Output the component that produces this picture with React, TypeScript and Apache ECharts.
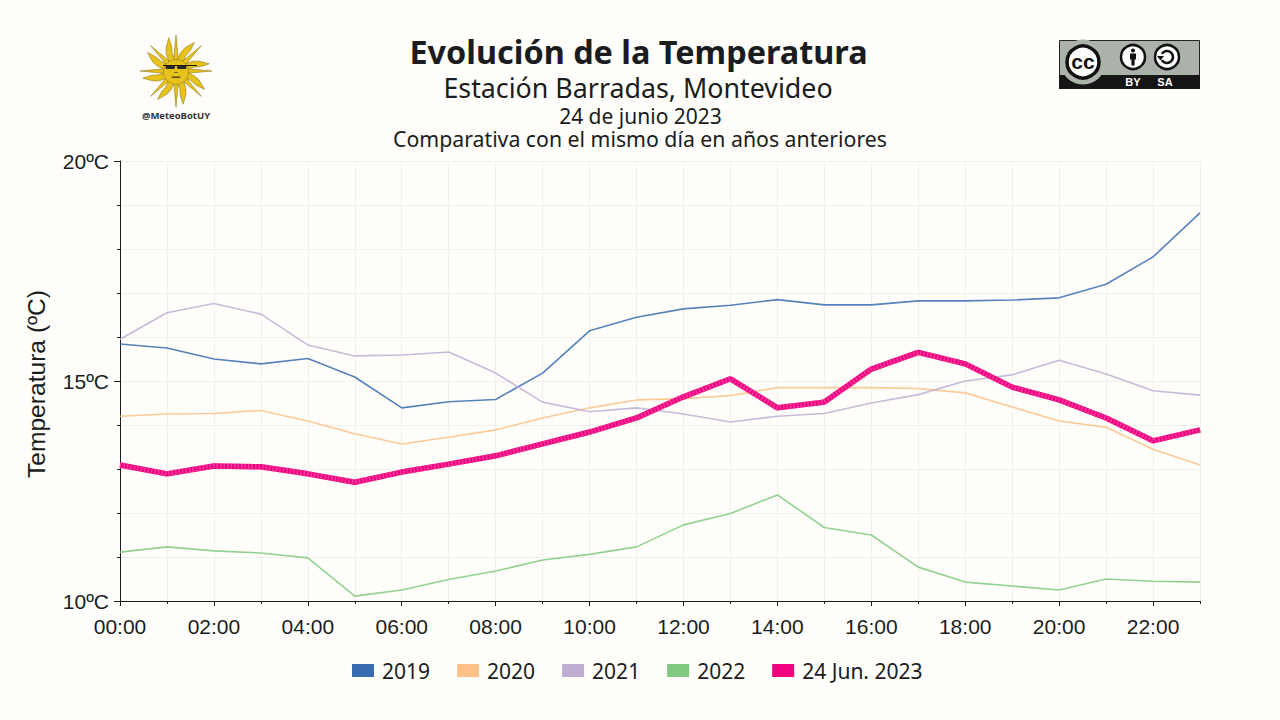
import { useEffect, useRef } from 'react'
import * as echarts from 'echarts'

const hours = ['00:00','01:00','02:00','03:00','04:00','05:00','06:00','07:00','08:00','09:00','10:00','11:00','12:00','13:00','14:00','15:00','16:00','17:00','18:00','19:00','20:00','21:00','22:00','23:00']
const y2019 = [15.84,15.75,15.5,15.39,15.51,15.09,14.39,14.53,14.58,15.18,16.14,16.45,16.64,16.72,16.85,16.73,16.73,16.82,16.82,16.84,16.89,17.2,17.82,18.82]
const y2020 = [14.2,14.25,14.26,14.33,14.09,13.8,13.57,13.72,13.89,14.16,14.39,14.57,14.6,14.67,14.85,14.85,14.85,14.83,14.73,14.41,14.09,13.95,13.45,13.09]
const y2021 = [15.95,16.55,16.76,16.52,15.82,15.57,15.59,15.66,15.18,14.52,14.3,14.39,14.25,14.07,14.2,14.26,14.5,14.69,15.0,15.14,15.47,15.16,14.78,14.68]
const y2022 = [11.11,11.23,11.14,11.09,10.98,10.11,10.25,10.49,10.68,10.93,11.06,11.23,11.73,11.99,12.41,11.67,11.5,10.77,10.43,10.34,10.25,10.5,10.45,10.43]
const y2023 = [13.09,12.89,13.07,13.05,12.89,12.7,12.93,13.11,13.3,13.57,13.84,14.16,14.64,15.05,14.39,14.52,15.27,15.65,15.39,14.86,14.57,14.16,13.64,13.89]
const legendNames = ['2019', '2020', '2021', '2022', '24 Jun. 2023']

const INK = '#1a1c20'
const SANS = '"Noto Sans", sans-serif'
const AXIS_FONT = '"Liberation Sans", Arial, sans-serif'

// sun emblem: 16 rays around a round face
function sunRays(cx: number, cy: number) {
  const rays: any[] = []
  const pt = (rad: number, ang: number) => [cx + rad * Math.cos(ang), cy + rad * Math.sin(ang)]
  for (let i = 0; i < 16; i++) {
    const a = (i * Math.PI) / 8 - Math.PI / 2
    const straight = i % 2 === 0
    const w = 0.22
    const bend = 0.2
    rays.push({
      type: 'polygon',
      shape: {
        points: straight
          ? [pt(11, a - w), pt(36, a), pt(11, a + w)]
          : [pt(11, a - w - 0.06), pt(19, a - bend * 0.7), pt(25, a - bend * 0.1), pt(34, a + bend * 0.9), pt(25, a + bend * 1.1), pt(18, a + bend * 0.9), pt(11, a + w + 0.06)],
      },
      style: { fill: '#e8c21c', stroke: '#7d6a1c', lineWidth: 0.5 },
    })
  }
  return rays
}

const sunGroup = [
  ...sunRays(176, 71),
  { type: 'circle', shape: { cx: 176, cy: 72, r: 12.5 }, style: { fill: '#e8c21c', stroke: '#8a7420', lineWidth: 0.5 } },
  { type: 'rect', shape: { x: 163, y: 65, width: 34, height: 1.1 }, style: { fill: '#111' } },
  { type: 'rect', shape: { x: 165.5, y: 65.5, width: 9.5, height: 3.6, r: 1.6 }, style: { fill: '#2a2a2a' } },
  { type: 'rect', shape: { x: 177, y: 65.5, width: 9.5, height: 3.6, r: 1.6 }, style: { fill: '#2a2a2a' } },
  { type: 'rect', shape: { x: 174, y: 72, width: 4, height: 1 }, style: { fill: '#7a6212' } },
  { type: 'rect', shape: { x: 171.5, y: 76.5, width: 9, height: 1.6, r: 0.8 }, style: { fill: '#5d4a10' } },
  { type: 'text', x: 176, y: 115, style: { text: '@MeteoBotUY', fill: '#333', font: 'bold 9.5px "Open Sans", sans-serif', textAlign: 'center', textVerticalAlign: 'middle' } },
]

// CC BY-SA badge
const badge = [
  { type: 'rect', shape: { x: 1059.5, y: 40.5, width: 140, height: 48 }, style: { fill: '#aab2a9', stroke: '#222', lineWidth: 1 } },
  { type: 'rect', shape: { x: 1059, y: 75, width: 141, height: 14 }, style: { fill: '#141514' } },
  { type: 'circle', shape: { cx: 1083, cy: 62, r: 22.5 }, style: { fill: '#aab2a9' } },
  { type: 'circle', shape: { cx: 1083, cy: 62, r: 16 }, style: { fill: '#fff', stroke: '#111', lineWidth: 3.5 } },
  { type: 'text', x: 1083, y: 61, style: { text: 'cc', fill: '#111', font: 'bold 21px "Liberation Sans", sans-serif', textAlign: 'center', textVerticalAlign: 'middle' } },
  { type: 'circle', shape: { cx: 1133, cy: 57, r: 12 }, style: { fill: '#fff', stroke: '#111', lineWidth: 2.5 } },
  { type: 'circle', shape: { cx: 1133, cy: 50.5, r: 2 }, style: { fill: '#111' } },
  { type: 'rect', shape: { x: 1130, y: 53.5, width: 6, height: 6 }, style: { fill: '#111' } },
  { type: 'rect', shape: { x: 1131.4, y: 59, width: 3.2, height: 6.5 }, style: { fill: '#111' } },
  { type: 'circle', shape: { cx: 1167, cy: 57, r: 12 }, style: { fill: '#fff', stroke: '#111', lineWidth: 2.5 } },
  { type: 'arc', shape: { cx: 1167, cy: 57, r: 6, startAngle: -2.6, endAngle: 2.6, clockwise: true }, style: { stroke: '#111', lineWidth: 2.6, fill: 'none' } },
  { type: 'polygon', shape: { points: [[1157, 56], [1164, 56], [1160.5, 60.5]] }, style: { fill: '#111' } },
  { type: 'text', x: 1133, y: 82, style: { text: 'BY', fill: '#fff', font: 'bold 11px "Liberation Sans", sans-serif', textAlign: 'center', textVerticalAlign: 'middle' } },
  { type: 'text', x: 1165, y: 82, style: { text: 'SA', fill: '#fff', font: 'bold 11px "Liberation Sans", sans-serif', textAlign: 'center', textVerticalAlign: 'middle' } },
]

function makeOption() {
  const thin = (name: string, data: number[], color: string) => ({
    name, type: 'line', data, symbol: 'none', color, lineStyle: { color, width: 1.6, opacity: 0.85 }, z: 2,
  })
  return {
    animation: false,
    backgroundColor: '#fffefa',
    title: [
      { text: 'Evolución de la Temperatura', left: 633.5, top: 29, textAlign: 'center', textStyle: { fontFamily: SANS, fontSize: 32.4, lineHeight: 34, fontWeight: 'bold', color: INK } },
      { text: 'Estación Barradas, Montevideo', left: 633, top: 69.5, textAlign: 'center', textStyle: { fontFamily: SANS, fontSize: 26.8, lineHeight: 25, fontWeight: 'normal', color: INK } },
      { text: '24 de junio 2023', left: 635.5, top: 100, textAlign: 'center', textStyle: { fontFamily: SANS, fontSize: 21, lineHeight: 22, fontWeight: 'normal', color: INK } },
      { text: 'Comparativa con el mismo día en años anteriores', left: 635, top: 122, textAlign: 'center', textStyle: { fontFamily: SANS, fontSize: 21.25, lineHeight: 22, fontWeight: 'normal', color: INK } },
    ],
    grid: { left: 120, right: 80, top: 161, bottom: 119 },
    legend: {
      data: legendNames, left: 347, top: 655, itemWidth: 22, itemGap: 27, itemHeight: 13, icon: 'rect',
      textStyle: { fontFamily: SANS, fontSize: 21, color: INK, padding: [0, 0, 0, 3] },
    },
    xAxis: [
      {
        type: 'category', data: hours, boundaryGap: false,
        axisLine: { lineStyle: { color: INK, width: 1 } },
        axisTick: { alignWithLabel: true, interval: 0, length: 3, lineStyle: { color: INK } },
        axisLabel: { interval: 1, color: INK, fontFamily: AXIS_FONT, fontSize: 21, margin: 15 },
        splitLine: { show: true, interval: 0, lineStyle: { color: '#f1f0ea', width: 1 } },
      },
      {
        // longer ticks on the labelled hours
        type: 'category', data: hours, boundaryGap: false, position: 'bottom',
        axisLine: { show: false }, axisLabel: { show: false }, splitLine: { show: false },
        axisTick: { interval: 1, length: 5, lineStyle: { color: INK } },
      },
    ],
    yAxis: {
      type: 'value', min: 10, max: 20, interval: 5,
      name: 'Temperatura (ºC)', nameLocation: 'middle', nameGap: 71, nameRotate: 90,
      nameTextStyle: { fontFamily: AXIS_FONT, fontSize: 24.6, color: INK, padding: [0, 6, 0, 0] },
      axisLine: { show: true, lineStyle: { color: INK, width: 1 } },
      axisTick: { show: true, length: 6, lineStyle: { color: INK } },
      minorTick: { show: true, splitNumber: 5, length: 3, lineStyle: { color: INK } },
      axisLabel: { formatter: '{value}ºC', color: INK, fontFamily: AXIS_FONT, fontSize: 21, margin: 11 },
      splitLine: { show: true, lineStyle: { color: '#f1f0ea', width: 1 } },
      minorSplitLine: { show: true, lineStyle: { color: '#f1f0ea', width: 1 } },
    },
    series: [
      thin('2019', y2019, '#386cb0'),
      thin('2020', y2020, '#fdc086'),
      thin('2021', y2021, '#beaed4'),
      thin('2022', y2022, '#7fc97f'),
      { name: '24 Jun. 2023', type: 'line', data: y2023, symbol: 'none', color: '#f0027f', lineStyle: { color: '#f0027f', width: 5.5 }, z: 4 },
      // striped sheen over the thick line
      { name: 'sheen', type: 'line', data: y2023, symbol: 'none', color: '#f52e95', lineStyle: { color: '#f63a9c', width: 5.5, type: [1.5, 2] }, z: 5 },
    ],
    graphic: [...sunGroup, ...badge],
  }
}

export default function App() {
  const ref = useRef<HTMLDivElement>(null)

  useEffect(() => {
    if (!ref.current) return
    const chart = echarts.init(ref.current, undefined, { renderer: 'svg' })
    chart.setOption(makeOption() as any)
    return () => chart.dispose()
  }, [])

  return <div ref={ref} style={{ position: 'fixed', left: 0, top: 0, width: 1280, height: 720 }} />
}
